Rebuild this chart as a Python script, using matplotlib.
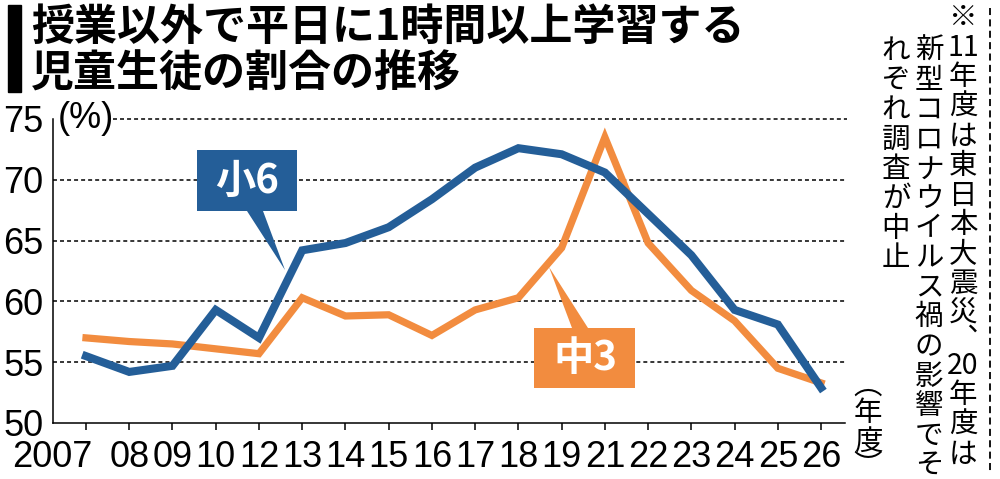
import matplotlib
matplotlib.use("Agg")
import matplotlib.pyplot as plt
import matplotlib.transforms as mtransforms
from matplotlib.patches import Rectangle, Polygon
from matplotlib.lines import Line2D

plt.rcParams['font.family'] = ['Liberation Sans', 'Noto Sans CJK JP', 'DejaVu Sans']
JP = ['Noto Sans CJK JP', 'DejaVu Sans']

# data (percent of pupils studying 1h+ on weekdays outside class)
years = ["2007", "08", "09", "10", "12", "13", "14", "15", "16",
         "17", "18", "19", "21", "22", "23", "24", "25", "26"]
elem6 = [55.5, 54.2, 54.7, 59.3, 57.0, 64.2, 64.8, 66.1, 68.4,
         71.0, 72.6, 72.1, 70.6, 67.2, 63.8, 59.3, 58.1, 52.9]
jhs3 = [57.0, 56.7, 56.5, 56.1, 55.7, 60.3, 58.8, 58.9, 57.2,
        59.3, 60.3, 64.4, 73.5, 64.8, 60.9, 58.4, 54.5, 53.3]
yticks = [50, 55, 60, 65, 70, 75]

title1 = "授業以外で平日に1時間以上学習する"
title2 = "児童生徒の割合の推移"
note_cols = [
    ["※", "11", "年", "度", "は", "東", "日", "本", "大", "震", "災", "︑", "20", "年", "度", "は"],
    ["新", "型", "コ", "ロ", "ナ", "ウ", "イ", "ル", "ス", "禍", "の", "影", "響", "で", "そ"],
    ["れ", "ぞ", "れ", "調", "査", "が", "中", "止"],
]

BLUE = "#245E98"
ORANGE = "#F28C3F"

fig = plt.figure(figsize=(10, 4.79), dpi=100)


def fxy(x, y):
    # reference pixel (from top-left) -> figure fraction
    return (x / 1000, 1 - y / 479)


ax = fig.add_axes([0.053, 1 - 423 / 479, (845 - 53) / 1000, (423 - 119) / 479])
x = list(range(len(years)))
ax.set_xlim((53 - 86) / 43.24, (845 - 86) / 43.24)
ax.set_ylim(50, 75)

for v in yticks[1:]:
    x0 = 0.076 if v == 75 else 0
    ax.axhline(v, xmin=x0, xmax=1.003, color='black', lw=1.1,
               ls=(0, (2.6, 2.0)), zorder=1, clip_on=False)

ax.plot(x, jhs3, color=ORANGE, lw=5.2, solid_joinstyle='miter', zorder=3, clip_on=False)
ax.plot(x, elem6, color=BLUE, lw=5.8, solid_joinstyle='miter', zorder=4, clip_on=False)

for s in ['top', 'right']:
    ax.spines[s].set_visible(False)
for s in ['left', 'bottom']:
    ax.spines[s].set_linewidth(1.1)

ax.set_xticks(x)
ax.set_xticklabels(years)
ax.set_yticks(yticks)
ax.set_yticklabels([str(v) for v in yticks])
ax.tick_params(axis='x', length=5.0, width=1.1, pad=7, labelsize=26)
ax.tick_params(axis='y', length=0, pad=7, labelsize=26)
lab0 = ax.get_xticklabels()[0]
lab0.set_horizontalalignment('right')
lab0.set_transform(lab0.get_transform() + mtransforms.ScaledTranslation(0.07, 0, fig.dpi_scale_trans))

fig.text(*fxy(58, 119), "(%)", fontsize=26, ha='left', va='center')

# title
fig.patches.append(Rectangle(fxy(8, 92), 13 / 1000, 87 / 479, transform=fig.transFigure,
                             color='black'))
fig.text(*fxy(31, 27), title1, family=JP, weight='bold', fontsize=31, ha='left', va='center')
fig.text(*fxy(31, 73), title2, family=JP, weight='bold', fontsize=31, ha='left', va='center')

# callouts
b6 = [(197, 150), (297, 150), (297, 211), (263, 211), (285, 270), (247, 211), (197, 211)]
fig.patches.append(Polygon([fxy(*p) for p in b6], closed=True, transform=fig.transFigure,
                           facecolor=BLUE, edgecolor='none', zorder=5))
fig.text(*fxy(247, 181), "小6", family=JP, weight='bold', color='white', fontsize=29,
         ha='center', va='center', zorder=6)
b3 = [(534, 328), (572, 328), (549, 267), (588, 328), (635, 328), (635, 388), (534, 388)]
fig.patches.append(Polygon([fxy(*p) for p in b3], closed=True, transform=fig.transFigure,
                           facecolor=ORANGE, edgecolor='none', zorder=5))
fig.text(*fxy(585, 358), "中3", family=JP, weight='bold', color='white', fontsize=29,
         ha='center', va='center', zorder=6)

# vertical note
col_x = [963, 929, 896]
col_y0 = [18, 51, 51]
pitch = 29.6
for cx, y0, toks in zip(col_x, col_y0, note_cols):
    y = y0
    prev = None
    for t in toks:
        h = pitch * 0.75 if t == "︑" else pitch
        if prev is not None:
            y += (prev + h) / 2
        fig.text(*fxy(cx, y), t, family=JP, fontsize=20.5, ha='center', va='center')
        prev = h

for t, yy in zip(["︵", "年", "度", "︶"], [386, 413, 443, 466]):
    fig.text(*fxy(868, yy), t, family=JP, fontsize=20.5, ha='center', va='center')

fig.add_artist(Line2D([0.99, 0.99], [1 - 8 / 479, 1 - 472 / 479], transform=fig.transFigure,
                      color='black', lw=1.3, ls=(0, (3.9, 2.4))))

fig.savefig("out.png", dpi=100)
